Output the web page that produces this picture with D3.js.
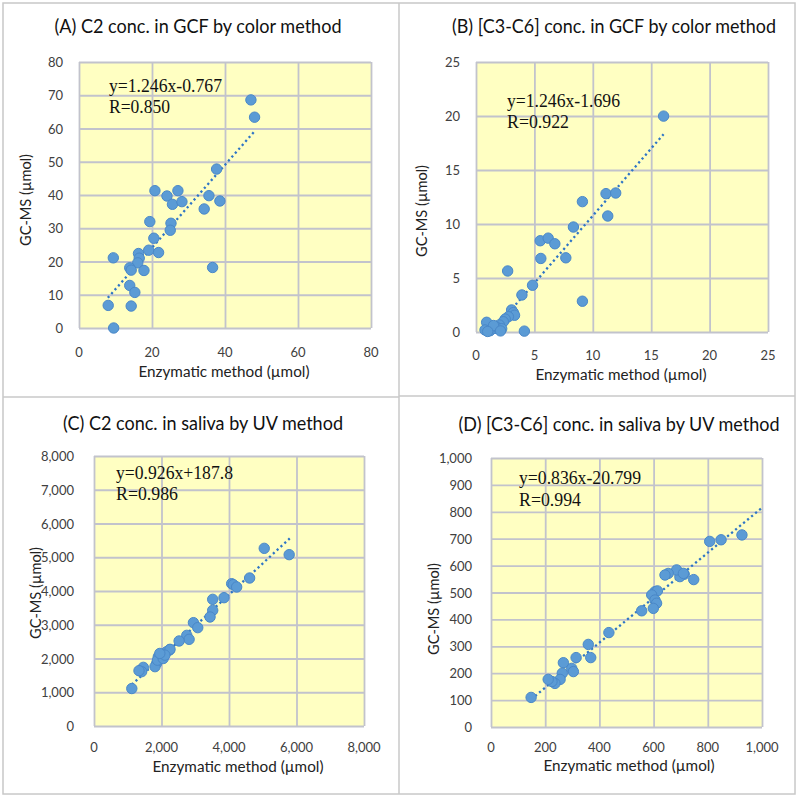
<!DOCTYPE html>
<html><head><meta charset="utf-8">
<script src="https://cdn.jsdelivr.net/npm/d3@7"></script>
<style>body{margin:0;background:#fff}svg{display:block}</style>
</head><body>
<svg id="c" width="800" height="799"></svg>
<script>
// ---------- DATA ----------
const titles = ["(A) C2 conc. in GCF by color method","(B) [C3-C6] conc. in GCF by color method","(C) C2 conc. in saliva by UV method","(D) [C3-C6] conc. in saliva by UV method"];
const xAxisTitle = "Enzymatic method (µmol)";
const yAxisTitle = "GC-MS (µmol)";
const equations = ["y=1.246x-0.767","y=1.246x-1.696","y=0.926x+187.8","y=0.836x-20.799"];
const rTexts = ["R=0.850","R=0.922","R=0.986","R=0.994"];
const slopes = [1.246,1.246,0.926,0.836];
const intercepts = [-0.767,-1.696,187.8,-20.799];
const trendRanges = [[7.9,48.2],[0.77,16.06],[1120,5800],[148,1000]];

const aTicksX = [0,20,40,60,80];
const aTicksY = [0,10,20,30,40,50,60,70,80];
const bTicksX = [0,5,10,15,20,25];
const bTicksY = [0,5,10,15,20,25];
const cTicksX = [0,2000,4000,6000,8000];
const cTicksY = [0,1000,2000,3000,4000,5000,6000,7000,8000];
const dTicksX = [0,200,400,600,800,1000];
const dTicksY = [0,100,200,300,400,500,600,700,800,900,1000];

const aX = [47.1,48.1,37.7,35.6,38.6,34.3,36.6,20.8,27.1,24.1,25.6,28.2,19.4,25.2,25.0,20.5,19.1,21.8,16.3,16.5,16.1,17.8,13.9,14.3,9.4,13.9,15.3,8.0,14.3,9.5];
const aY = [68.6,63.4,47.8,39.8,38.2,35.8,18.2,41.3,41.3,39.7,37.2,38.0,32.0,31.5,29.4,27.0,23.4,22.7,22.4,21.0,19.6,17.3,18.1,17.4,21.1,12.8,10.7,6.8,6.6,0];

const bX = [16.06,11.13,11.96,11.28,9.11,9.11,8.34,7.69,5.50,6.18,6.75,5.55,4.84,3.93,2.71,4.14,3.05,3.2,3.3,2.77,2.5,2.34,2.0,1.7,0.91,0.77,1.2,1.63,1.9,2.2,1.5,2.1,1.0];
const bY = [19.99,12.81,12.87,10.74,12.07,2.85,9.72,6.87,8.45,8.69,8.17,6.81,4.33,3.43,5.65,0.08,2.04,1.8,1.55,1.42,1.2,0.95,0.65,0.5,0.9,0.19,0.12,0.34,0.34,0.3,0.6,0.1,0.05];

const cX = [5044,5783,4611,4079,4128,4227,3852,3517,3517,3438,2946,3074,2749,2818,2522,2236,2153,2252,2004,1906,1857,1807,1880,2050,2100,1950,1461,1412,1333,1120];
const cY = [5264,5077,4385,4217,4188,4119,3802,3753,3427,3230,3062,2914,2686,2568,2519,2252,2202,2272,2103,2054,1857,1758,1950,2000,2100,2150,1738,1610,1639,1110];

const dX = [926,849,807,748,713,697,685,710,654,642,605,614,593,605,611,599,556,435,359,368,314,298,304,267,263,255,236,225,211,148];
const dY = [714,696,690,548,568,559,584,571,571,565,503,506,491,472,460,441,432,351,307,258,258,218,206,239,200,177,162,169,177,110];

// ---------- LAYOUT ----------
const panels = [
  {xs:aX, ys:aY, tx:aTicksX, ty:aTicksY, plot:[79,371,62,328], title:[198,33,287], xt:[224,377], yt:[25,200], eq:[109,92,113], r:[109,113,61], yl:16, xl:24},
  {xs:bX, ys:bY, tx:bTicksX, ty:bTicksY, plot:[476,768,62,332], title:[614,33,324], xt:[621,380], yt:[421,211], eq:[507,107,113], r:[507,128,62], yl:16, xl:23},
  {xs:cX, ys:cY, tx:cTicksX, ty:cTicksY, plot:[94,364,456,726], title:[203,430,280], xt:[238,772], yt:[35,593], eq:[116,479,117], r:[116,500,62], yl:20, xl:21},
  {xs:dX, ys:dY, tx:dTicksX, ty:dTicksY, plot:[491,762,458,727], title:[619,431,321], xt:[629,771], yt:[433,609], eq:[519,484,122], r:[519,506,62], yl:19, xl:20}
];

const svg = d3.select("#c");
const fmt = d3.format(",");
const sans = "Lato, 'Open Sans', sans-serif";
const serif = "'Liberation Serif', 'Times New Roman', serif";
const gridCol = "#c2c3cc";

// frames
const fr = svg.append("g").attr("fill","none").attr("stroke","#c8c8c8").attr("stroke-width",1.5);
fr.append("rect").attr("x",3).attr("y",3).attr("width",792).attr("height",791);
fr.append("line").attr("x1",399).attr("x2",399).attr("y1",3).attr("y2",794);
fr.append("line").attr("x1",3).attr("x2",399).attr("y1",397).attr("y2",397);
fr.append("line").attr("x1",399).attr("x2",795).attr("y1",396).attr("y2",396);

panels.forEach((p,i)=>{
  const [x0,x1,y0,y1] = p.plot;
  const xMax = p.tx[p.tx.length-1], yMax = p.ty[p.ty.length-1];
  const x = d3.scaleLinear().domain([0,xMax]).range([x0,x1]);
  const y = d3.scaleLinear().domain([0,yMax]).range([y1,y0]);
  const g = svg.append("g");
  const clipId = "clip"+i;
  svg.append("clipPath").attr("id",clipId).append("rect").attr("x",x0).attr("y",y0).attr("width",x1-x0).attr("height",y1-y0);

  g.append("rect").attr("x",x0).attr("y",y0).attr("width",x1-x0).attr("height",y1-y0).attr("fill","#ffffc2");

  // grid via axes
  g.append("g").attr("transform",`translate(0,${y1})`)
    .call(d3.axisBottom(x).tickValues(p.tx).tickSize(-(y1-y0)).tickFormat(""))
    .call(s=>{s.select(".domain").remove(); s.selectAll("line").attr("stroke",gridCol).attr("stroke-width",1.8);});
  g.append("g").attr("transform",`translate(${x0},0)`)
    .call(d3.axisLeft(y).tickValues(p.ty).tickSize(-(x1-x0)).tickFormat(""))
    .call(s=>{s.select(".domain").remove(); s.selectAll("line").attr("stroke",gridCol).attr("stroke-width",1.8);});

  // tick labels
  g.selectAll(".xl").data(p.tx).join("text").attr("x",d=>x(d)).attr("y",y1+p.xl)
    .attr("text-anchor","middle").attr("dominant-baseline","central")
    .attr("font-family",sans).attr("font-size",13).attr("fill","#404040").text(d=>fmt(d));
  g.selectAll(".yl").data(p.ty).join("text").attr("x",x0-p.yl).attr("y",d=>y(d))
    .attr("text-anchor","end").attr("dominant-baseline","central")
    .attr("font-family",sans).attr("font-size",13).attr("fill","#404040").text(d=>fmt(d));

  // trend line
  const [t0,t1] = trendRanges[i];
  const f = v=>slopes[i]*v+intercepts[i];
  g.append("line").attr("clip-path",`url(#${clipId})`)
    .attr("x1",x(t0)).attr("y1",y(f(t0))).attr("x2",x(t1)).attr("y2",y(f(t1)))
    .attr("stroke","#2e75c6").attr("stroke-width",2.3).attr("stroke-dasharray","2.2,3");

  // points
  g.selectAll(".pt").data(d3.range(p.xs.length)).join("circle")
    .attr("cx",k=>x(p.xs[k])).attr("cy",k=>y(p.ys[k])).attr("r",5.2)
    .attr("fill","#5b9bd5").attr("stroke","#4a88c8").attr("stroke-width",1);

  // equation
  g.append("text").attr("x",p.eq[0]).attr("y",p.eq[1]).attr("font-family",serif)
    .attr("font-size",19.5).attr("fill","#111").attr("textLength",p.eq[2]).attr("lengthAdjust","spacingAndGlyphs").text(equations[i]);
  g.append("text").attr("x",p.r[0]).attr("y",p.r[1]).attr("font-family",serif)
    .attr("font-size",19.5).attr("fill","#111").attr("textLength",p.r[2]).attr("lengthAdjust","spacingAndGlyphs").text(rTexts[i]);

  // titles
  g.append("text").attr("x",p.title[0]).attr("y",p.title[1]).attr("text-anchor","middle")
    .attr("font-family",sans).attr("font-size",18.5).attr("fill","#111")
    .attr("textLength",p.title[2]).attr("lengthAdjust","spacingAndGlyphs").text(titles[i]);
  g.append("text").attr("x",p.xt[0]).attr("y",p.xt[1]).attr("text-anchor","middle")
    .attr("font-family",sans).attr("font-size",15.5).attr("fill","#222")
    .attr("textLength",171).attr("lengthAdjust","spacingAndGlyphs").text(xAxisTitle);
  g.append("text").attr("transform",`translate(${p.yt[0]},${p.yt[1]}) rotate(-90)`).attr("text-anchor","middle")
    .attr("dominant-baseline","central")
    .attr("font-family",sans).attr("font-size",15.5).attr("fill","#222")
    .attr("textLength",92).attr("lengthAdjust","spacingAndGlyphs").text(yAxisTitle);
});
</script>
</body></html>
